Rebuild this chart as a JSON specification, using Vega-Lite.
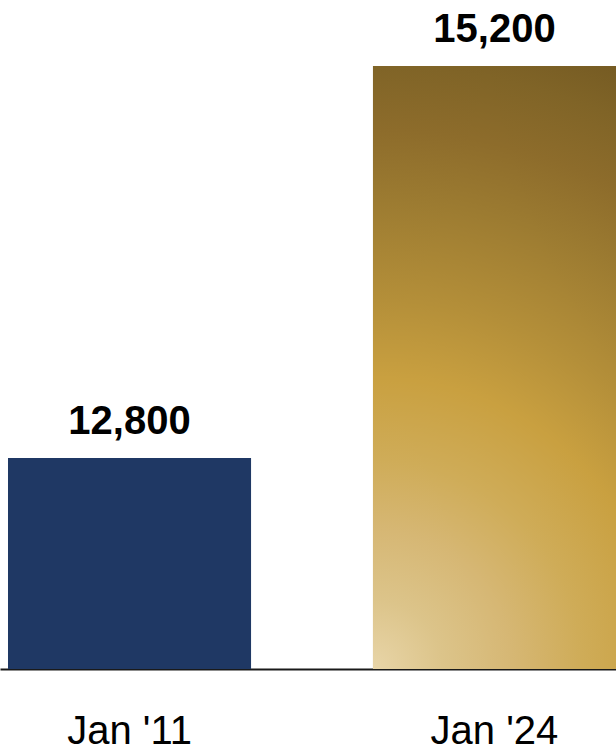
{
  "$schema": "https://vega.github.io/schema/vega-lite/v6.json",
  "width": 616,
  "height": 669,
  "padding": {"left": 0, "right": 0, "top": 0, "bottom": 81},
  "autosize": {"type": "none"},
  "background": "white",
  "config": {"view": {"stroke": null}},
  "data": {"values": [
    {"period": "Jan '11", "value": 12800},
    {"period": "Jan '24", "value": 15200}
  ]},
  "encoding": {
    "x": {
      "field": "period",
      "type": "nominal",
      "sort": null,
      "scale": {"paddingInner": 0.334, "paddingOuter": 0.01096, "align": 1},
      "axis": {
        "title": null,
        "labelAngle": 0,
        "ticks": false,
        "grid": false,
        "domain": true,
        "domainColor": "#1a1a1a",
        "domainWidth": 2,
        "labelFont": "Liberation Sans, Arial, sans-serif",
        "labelFontSize": 40,
        "labelColor": "#000000",
        "labelBaseline": "alphabetic",
        "labelPadding": 74
      }
    },
    "y": {
      "field": "value",
      "type": "quantitative",
      "scale": {"domain": [11508, 15604], "nice": false, "zero": false},
      "axis": null
    }
  },
  "layer": [
    {
      "transform": [{"filter": "datum.period === \"Jan '11\""}],
      "mark": {"type": "bar", "color": "#1f3864", "clip": false},
      "encoding": {"y2": {"datum": 11508}}
    },
    {
      "transform": [{"filter": "datum.period === \"Jan '24\""}],
      "mark": {
        "type": "bar",
        "clip": false,
        "color": {
          "gradient": "radial",
          "x1": 0.2985, "y1": 1, "r1": 0,
          "x2": 0.2985, "y2": 1, "r2": 1.1,
          "stops": [
            {"offset": 0, "color": "#e8d5a8"},
            {"offset": 0.104, "color": "#dcc48a"},
            {"offset": 0.21, "color": "#d6b774"},
            {"offset": 0.315, "color": "#cfac58"},
            {"offset": 0.439, "color": "#c9a040"},
            {"offset": 0.557, "color": "#b48f39"},
            {"offset": 0.707, "color": "#9c7b31"},
            {"offset": 0.813, "color": "#8d6c2b"},
            {"offset": 0.909, "color": "#806427"},
            {"offset": 1, "color": "#735922"}
          ]
        }
      },
      "encoding": {"y2": {"datum": 11508}}
    },
    {
      "mark": {
        "type": "text",
        "font": "Liberation Sans, Arial, sans-serif",
        "fontSize": 40,
        "fontWeight": "bold",
        "color": "#000000",
        "baseline": "alphabetic",
        "dy": -24
      },
      "encoding": {"text": {"field": "value", "type": "quantitative", "format": ","}}
    }
  ]
}
